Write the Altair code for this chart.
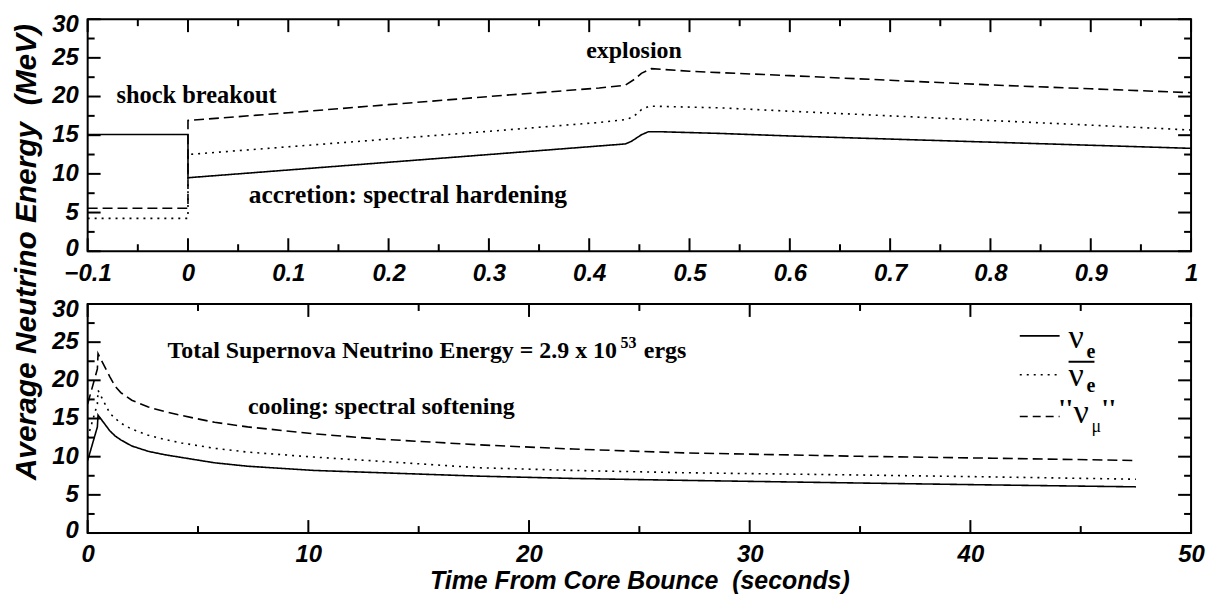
import altair as alt
import pandas as pd

# ---------------- data ----------------
series_names = ["nu_e", "nu_e_bar", "nu_mu"]

# top panel: first second around bounce
top_t_e = [-0.1, 0.0, 0.0, 0.1, 0.2, 0.3, 0.436, 0.442, 0.452, 0.459, 0.47, 0.53, 0.6, 0.7, 0.8, 0.9, 1.0]
top_E_e = [15.1, 15.1, 9.5, 10.5, 11.5, 12.5, 13.87, 14.2, 15.05, 15.45, 15.45, 15.23, 14.9, 14.5, 14.1, 13.7, 13.3]
top_t_eb = [-0.1, 0.0, 0.0, 0.1, 0.2, 0.3, 0.41, 0.438, 0.445, 0.452, 0.46, 0.53, 0.6, 0.7, 0.8, 0.9, 1.0]
top_E_eb = [4.25, 4.25, 12.5, 13.5, 14.5, 15.5, 16.65, 17.05, 17.5, 18.3, 18.76, 18.54, 18.1, 17.5, 16.9, 16.3, 15.67]
top_t_mu = [-0.1, 0.0, 0.0, 0.1, 0.2, 0.3, 0.41, 0.436, 0.446, 0.452, 0.462, 0.5, 0.53, 0.6, 0.7, 0.8, 0.9, 1.0]
top_E_mu = [5.55, 5.55, 16.9, 17.9, 18.95, 20.0, 21.1, 21.46, 22.3, 23.0, 23.6, 23.27, 23.09, 22.7, 22.1, 21.5, 21.0, 20.5]

# bottom panel: cooling phase
bot_t = [0.0, 0.44, 0.47, 1.0, 1.25, 1.5, 2.0, 2.75, 3.5, 4.25, 5.75, 7.25, 10.25, 13.25, 17.75, 22.0, 27.0, 35.0, 41.0, 47.5]
bot_E_e = [9.5, 13.9, 15.45, 13.4, 12.7, 12.2, 11.4, 10.7, 10.25, 9.9, 9.2, 8.75, 8.2, 7.9, 7.45, 7.15, 6.9, 6.55, 6.3, 6.05]
bot_E_eb = [12.5, 16.9, 18.7, 15.7, 15.0, 14.4, 13.6, 12.8, 12.25, 11.8, 11.1, 10.6, 9.95, 9.4, 8.55, 8.2, 7.9, 7.6, 7.35, 7.05]
bot_E_mu = [16.9, 21.5, 23.5, 20.5, 19.2, 18.4, 17.4, 16.5, 15.9, 15.4, 14.5, 13.9, 13.0, 12.3, 11.55, 11.0, 10.5, 10.05, 9.8, 9.5]

# axes
x_top_major = [-0.1, 0.0, 0.1, 0.2, 0.3, 0.4, 0.5, 0.6, 0.7, 0.8, 0.9, 1.0]
x_top_minor = [-0.05, 0.05, 0.15, 0.25, 0.35, 0.45, 0.55, 0.65, 0.75, 0.85, 0.95]
x_bot_major = [0, 10, 20, 30, 40, 50]
x_bot_minor = [5, 15, 25, 35, 45]
y_major = [0, 5, 10, 15, 20, 25, 30]
y_minor = [2.5, 7.5, 12.5, 17.5, 22.5, 27.5]

# annotations
top_notes = ["shock breakout", "explosion", "accretion: spectral hardening"]
top_notes_t = [-0.0712, 0.397, 0.0607]
top_notes_E = [19.1, 24.98, 6.22]
top_notes_fs = [24.5, 24, 25.5]

bot_notes = ["Total Supernova Neutrino Energy = 2.9 x 10", "53", "ergs", "cooling: spectral softening"]
bot_notes_t = [3.62, 24.15, 25.2, 7.26]
bot_notes_E = [22.92, 24.3, 22.92, 15.6]
bot_notes_fs = [24, 16, 24, 24]

y_title = "Average Neutrino Energy\u00a0 (MeV)"
x_title = "Time From Core Bounce\u00a0 (seconds)"

# ---------------- helpers ----------------
W = 1108
H_TOP = 233
H_BOT = 230
MAJ = 13
MIN = 7
SANS = "Liberation Sans"
SERIF = "Liberation Serif"


def series_df(ts, Es):
    rows = []
    for name, tt, EE in zip(series_names, ts, Es):
        for i, (a, b) in enumerate(zip(tt, EE)):
            rows.append({"t": a, "E": b, "series": name, "i": i})
    return pd.DataFrame(rows)


def txt(s, px, py, size, font=SERIF, weight="normal", align="left", angle=0, style="normal"):
    kw = dict(align=align, baseline="alphabetic", font=font, fontSize=size,
              fontWeight=weight, fontStyle=style, color="black")
    if angle:
        kw["angle"] = angle
    return alt.Chart(pd.DataFrame({"s": [s]})).mark_text(**kw).encode(
        text="s:N", x=alt.value(px), y=alt.value(py))


def ylabels(vals, Y, dy):
    lab = pd.DataFrame({"E": vals, "s": [str(v) for v in vals]})
    return alt.Chart(lab).mark_text(align="right", baseline="middle", dy=dy, font=SANS, fontSize=24,
                                    fontStyle="italic", fontWeight="bold", color="black").encode(
        y=Y, x=alt.value(-9), text="s:N")


def panel(df, xdom, xmajor, xminor, H, notes, xtitle, xfmt, extra):
    xs = alt.Scale(domain=xdom, nice=False, zero=False)
    ys = alt.Scale(domain=[0, 30], nice=False, zero=False)
    X = alt.X("t:Q", scale=xs, axis=alt.Axis(values=xmajor, format=xfmt, title=xtitle))
    Y = alt.Y("E:Q", scale=ys, axis=None)

    lines = alt.Chart(df).mark_line(color="black", strokeWidth=1.6).encode(
        x=X, y=Y,
        strokeDash=alt.StrokeDash("series:N",
                                  scale=alt.Scale(domain=series_names, range=[[1, 0], [2, 5], [10, 5]]),
                                  legend=None),
        order=alt.Order("i:Q"),
    )
    layers = [lines]
    for vals, L in ((xmajor, MAJ), (xminor, MIN)):
        d = alt.Chart(pd.DataFrame({"t": vals})).mark_rule(color="black", strokeWidth=2)
        layers.append(d.encode(x=X, y=alt.value(H), y2=alt.value(H - L)))
        layers.append(d.encode(x=X, y=alt.value(0), y2=alt.value(L)))
    for vals, L in ((y_major, MAJ), (y_minor, MIN)):
        d = alt.Chart(pd.DataFrame({"E": vals})).mark_rule(color="black", strokeWidth=2)
        layers.append(d.encode(y=Y, x=alt.value(0), x2=alt.value(L)))
        layers.append(d.encode(y=Y, x=alt.value(W), x2=alt.value(W - L)))
    # y tick labels (the end labels sit slightly inside, as in the reference)
    layers.append(ylabels(y_major[1:-1], Y, 0))
    layers.append(ylabels(y_major[:1], Y, -2))
    layers.append(ylabels(y_major[-1:], Y, 6))
    # annotations
    layers.append(alt.Chart(notes).mark_text(align="left", baseline="alphabetic", font=SERIF,
                                             fontWeight="bold", color="black").encode(
        x=X, y=Y, text="s:N", size=alt.Size("fs:Q", scale=None)))
    layers += extra
    return alt.layer(*layers).properties(width=W, height=H)


top_df = series_df([top_t_e, top_t_eb, top_t_mu], [top_E_e, top_E_eb, top_E_mu])
bot_df = series_df([bot_t, bot_t, bot_t], [bot_E_e, bot_E_eb, bot_E_mu])

top_notes_df = pd.DataFrame({"t": top_notes_t, "E": top_notes_E, "s": top_notes, "fs": top_notes_fs})
bot_notes_df = pd.DataFrame({"t": bot_notes_t, "E": bot_notes_E, "s": bot_notes, "fs": bot_notes_fs})

# y title (spans both panels) drawn with the top panel
ytitle_layer = txt(y_title, -52, 463, 30, font=SANS, weight="bold", style="italic", angle=270)


def leg_rule(y, dash):
    return alt.Chart(pd.DataFrame({"a": [0]})).mark_rule(color="black", strokeWidth=1.6, strokeDash=dash).encode(
        x=alt.value(936), x2=alt.value(976), y=alt.value(y))


legend_layers = [
    leg_rule(32, [1, 0]), leg_rule(71, [2, 5]), leg_rule(113, [8, 5]),
    txt("\u03bd", 985, 44, 34), txt("e", 1003, 54, 20, weight="bold"),
    alt.Chart(pd.DataFrame({"a": [0]})).mark_rule(color="black", strokeWidth=2).encode(
        x=alt.value(985), x2=alt.value(1011), y=alt.value(58)),
    txt("\u03bd", 985, 82, 34), txt("e", 1003, 88, 20, weight="bold"),
    txt("''", 975, 113, 26, weight="bold"), txt("\u03bd", 990, 120, 34),
    txt("\u03bc", 1008, 129, 18), txt("''", 1018, 113, 26, weight="bold"),
]

top = panel(top_df, [-0.1, 1.0], x_top_major, x_top_minor, H_TOP, top_notes_df, "", "~g", [ytitle_layer])
bottom = panel(bot_df, [0, 50], x_bot_major, x_bot_minor, H_BOT, bot_notes_df, x_title, "d", legend_layers)

chart = alt.vconcat(top, bottom, spacing=53, bounds="flush").properties(
    padding={"left": 2, "top": 3, "right": 0, "bottom": 0}
).configure_view(stroke="black", strokeWidth=2).configure_axis(
    domain=False, ticks=False, tickSize=0, grid=False, labelFlush=False,
    labelFont=SANS, labelFontSize=24, labelFontStyle="italic", labelFontWeight="bold",
    labelColor="black", labelPadding=10,
    titleFont=SANS, titleFontSize=25, titleFontStyle="italic", titleFontWeight="bold",
    titleColor="black", titlePadding=2,
)

chart.save("out.html", embed_options={"renderer": "svg", "actions": False})
